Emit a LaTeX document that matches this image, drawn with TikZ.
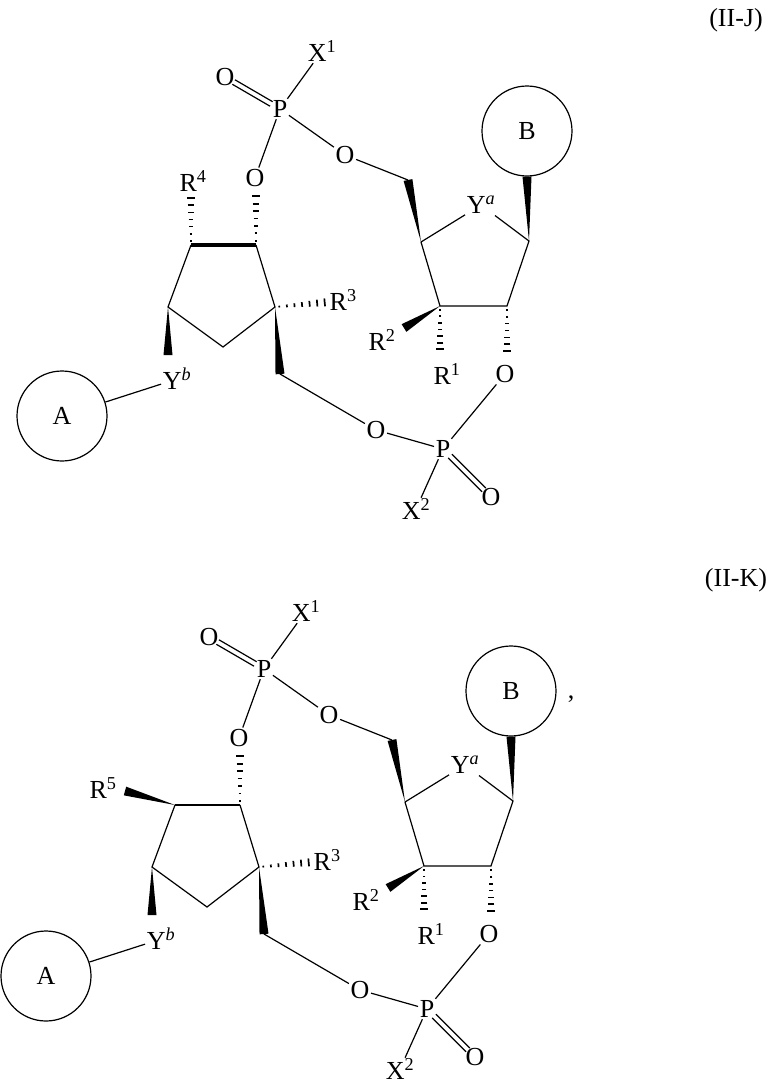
\documentclass[tikz,border=0pt]{standalone}
\usepackage{fontspec}
\setmainfont{Liberation Serif}
\usetikzlibrary{calc}
\tikzset{
  atom/.style={inner sep=1.5pt, font=\fontsize{26}{28}\selectfont},
  bond/.style={line width=1.2pt},
  circ/.style={draw, circle, line width=1.2pt, minimum size=90pt, inner sep=0pt, font=\fontsize{26}{28}\selectfont}
}
\newcommand{\wdg}[2]{\fill ($(#1)$) -- ($(#2)!4.5pt!90:(#1)$) -- ($(#2)!4.5pt!-90:(#1)$) -- cycle;}
\newcommand{\hsh}[2]{\foreach \t in {0.08,0.22,...,1.0}{%
  \coordinate (hp) at ($(#1)!\t!(#2)$);
  \draw[line width=1.7pt] ($(hp)!0.6pt+3.6pt*\t!90:(#2)$) -- ($(hp)!0.6pt+3.6pt*\t!-90:(#2)$);}}
\newcommand{\dbl}[2]{%
  \coordinate (da) at ($(#1)!10pt!(#2)$);
  \coordinate (db) at ($(#2)!10pt!(#1)$);
  \draw[bond] ($(da)!2.6pt!90:(db)$) -- ($(db)!2.6pt!-90:(da)$);
  \draw[bond] ($(da)!2.6pt!-90:(db)$) -- ($(db)!2.6pt!90:(da)$);}
\newcommand{\molecule}[1]{%
  \node[atom] (X1) at (322,51) {X\textsuperscript{1}};
  \node[atom] (Od1) at (225,77) {O};
  \node[atom] (P1) at (280,109) {P};
  \node[atom] (O3) at (255,178) {O};
  \node[atom] (O5) at (345,155) {O};
  \coordinate (C5p) at (408,180);
  \coordinate (C4p) at (421,242);
  \node[atom] (Ya) at (481,205) {Y\textsuperscript{\itshape a}};
  \coordinate (C1p) at (529,241);
  \node[circ] (B) at (527,131) {B};
  \coordinate (C2p) at (507,306);
  \coordinate (C3p) at (440,306);
  \coordinate (R2e) at (404,328);
  \node[atom] (R2) at (382,340) {R\textsuperscript{2}};
  \coordinate (R1e) at (440,353);
  \node[atom] (R1) at (447,374) {R\textsuperscript{1}};
  \coordinate (O2e) at (507,355);
  \node[atom] (O2) at (505,374) {O};
  \node[atom] (P2) at (443,449) {P};
  \node[atom] (Od2) at (491,497) {O};
  \node[atom, inner sep=0.5pt] (X2) at (416,509) {X\textsuperscript{2}};
  \node[atom] (O6) at (376,430) {O};
  \coordinate (C4) at (191,245);
  \coordinate (C3) at (256,245);
  \coordinate (C2) at (275,307);
  \coordinate (C6) at (223,347);
  \coordinate (C5) at (168,307);
  \coordinate (O3e) at (256,192);
  \coordinate (R3e) at (329,302);
  \node[atom, anchor=west] (R3) at (328,300) {R\textsuperscript{3}};
  \coordinate (C5e) at (168,355);
  \node[atom] (Yb) at (177,379) {Y\textsuperscript{\itshape b}};
  \coordinate (C7) at (280,374);
  \node[circ] (A) at (62,416) {A};
  % bonds
  \draw[bond] (P1) -- (X1);
  \dbl{P1}{Od1}
  \draw[bond] (P1) -- (O3);
  \draw[bond] (P1) -- (O5);
  \draw[bond] (O5) -- (C5p);
  \wdg{C4p}{C5p}
  \draw[bond] (C4p) -- (Ya) -- (C1p) -- (C2p) -- (C3p) -- (C4p);
  \wdg{C1p}{B.south}
  \wdg{C3p}{R2e}
  \hsh{C3p}{R1e}
  \hsh{C2p}{O2e}
  \draw[bond] (O2) -- (P2);
  \dbl{P2}{Od2}
  \draw[bond] (P2) -- (X2);
  \draw[bond] (P2) -- (O6);
  \draw[bond] (O6) -- (C7);
  \wdg{C2}{C7}
  \draw[bond] (C3) -- (C2) -- (C6) -- (C5) -- (C4);
  \hsh{C3}{O3e}
  \hsh{C2}{R3e}
  \wdg{C5}{C5e}
  \draw[bond] (Yb) -- (A);
  #1}
\begin{document}
\begin{tikzpicture}[x=1pt,y=-1pt]
\useasboundingbox (0,0) rectangle (774,1082);
\node[atom] (lj) at (736,20) {(II-J)};
\node[atom] (lk) at (736,580) {(II-K)};
\begin{scope}
\molecule{%
  \draw[line width=3.2pt] (C4) -- (C3);
  \coordinate (R4e) at (191,194);
  \hsh{C4}{R4e}
  \node[atom] (R4) at (193,181) {R\textsuperscript{4}};}
\end{scope}
\begin{scope}[shift={(-16,560)}]
\molecule{%
  \draw[bond] (C4) -- (C3);
  \coordinate (R5e) at (141,231);
  \wdg{C4}{R5e}
  \node[atom] (R5) at (119,228) {R\textsuperscript{5}};
  \node[atom] (cm) at (587,139) {,};}
\end{scope}
\end{tikzpicture}
\end{document}
